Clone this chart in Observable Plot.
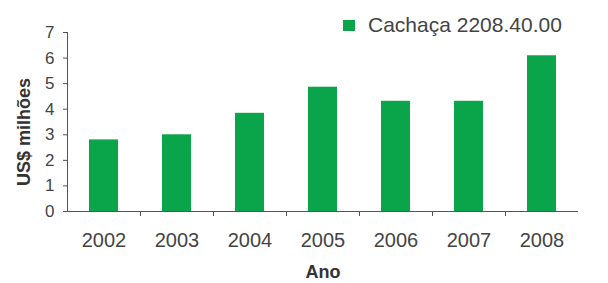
<!DOCTYPE html>
<html><head><meta charset="utf-8">
<script src="https://cdn.jsdelivr.net/npm/d3@7"></script>
<script src="https://cdn.jsdelivr.net/npm/@observablehq/plot@0.6"></script>
<style>
body{margin:0;background:#fff;}
#wrap{position:relative;width:608px;height:283px;font-family:"Liberation Sans",Arial,sans-serif;}
#legend{position:absolute;left:343px;top:13px;font-size:21px;color:#444;display:flex;align-items:center;white-space:nowrap;}
#legend .sw{display:inline-block;width:12px;height:11px;background:#0aa54b;margin-right:13px;}
</style></head><body>
<div id="wrap"><div id="legend"><span class="sw"></span><span id="lgtext"></span></div></div>
<script>
const years = ["2002", "2003", "2004", "2005", "2006", "2007", "2008"];
const values = [2.8, 3.0, 3.84, 4.86, 4.31, 4.31, 6.09];
const yTicks = [0, 1, 2, 3, 4, 5, 6, 7];
const seriesName = "Cachaça 2208.40.00";
const yLabel = "US$ milhões";
const xLabel = "Ano";

const data = years.map((y, i) => ({ano: y, valor: values[i]}));
document.getElementById("lgtext").textContent = seriesName;

const chart = Plot.plot({
  width: 608, height: 283,
  marginLeft: 67, marginRight: 30, marginTop: 32, marginBottom: 72,
  style: {fontFamily: "Liberation Sans, Arial, sans-serif", color: "#444", background: "transparent", overflow: "visible"},
  x: {domain: years, paddingInner: 0.6, paddingOuter: 0.3},
  y: {domain: [0, 7]},
  marks: [
    Plot.barY(data, {x: "ano", y: "valor", fill: "#0aa54b"}),
    Plot.ruleY([0], {stroke: "#555"}),
    Plot.frame({anchor: "left", stroke: "#555"}),
    Plot.ruleX(years.slice(1), {x: d => d, dx: -36.5, y1: 0, y2: 0, insetBottom: -5, stroke: "#555"}),
    Plot.axisY({ticks: yTicks, tickFormat: d3.format("d"), tickSize: 4, tickPadding: 9, fontSize: 17, label: null, stroke: "#555", fill: "#444"}),
    Plot.axisX({tickSize: 0, tickPadding: 21, fontSize: 20, label: null, fill: "#444"}),
    Plot.text([yLabel], {frameAnchor: "left", textAnchor: "middle", lineAnchor: "middle", dx: -43, dy: 10, rotate: -90, fontWeight: "bold", fontSize: 18, fill: "#333"}),
    Plot.text([xLabel], {frameAnchor: "bottom", textAnchor: "middle", lineAnchor: "middle", dy: 61, fontWeight: "bold", fontSize: 18, fill: "#333"})
  ]
});
document.getElementById("wrap").appendChild(chart);
</script>
</body></html>
